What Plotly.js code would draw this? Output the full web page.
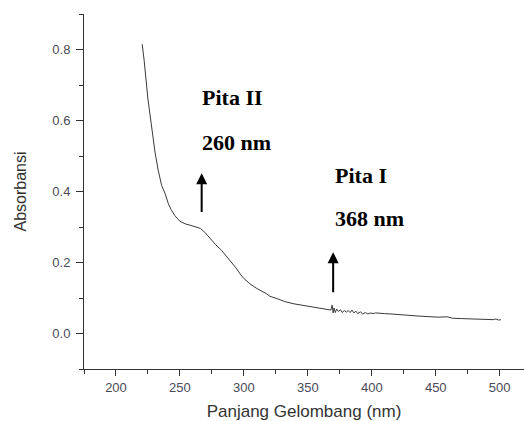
<!DOCTYPE html>
<html>
<head>
<meta charset="utf-8">
<script src="https://cdn.plot.ly/plotly-3.0.1.min.js"></script>
<style>html,body{margin:0;padding:0;background:#fff;}#chart{width:524px;height:421px;}</style>
</head>
<body>
<div id="chart"></div>
<script>
// Wavelength (nm)
var wavelength = [220.5,222,225,228,230.5,233,235.7,238.3,241,243,246,250,254,258,263,266,269.5,273.4,278,282.6,286.5,290.4,294,297,300,304.7,310,317.7,320.3,326.8,332,338.5,345,351,356.8,362,366,368,369,369.8,370.5,371.5,372.5,374,375.5,377,378.5,380,381.5,383,384.5,386,387.5,389,391,393,395,397,399,401,403,406,410,415,420,429.7,437,445,452,459,463,470,477,484,490,495,497,499,501];
// Absorbance
var absorbance = [0.815,0.77,0.66,0.575,0.511,0.46,0.417,0.395,0.365,0.35,0.332,0.316,0.309,0.305,0.299,0.296,0.285,0.268,0.25,0.234,0.217,0.201,0.184,0.168,0.155,0.14,0.127,0.112,0.105,0.097,0.09,0.084,0.08,0.077,0.074,0.071,0.068,0.066,0.08,0.058,0.072,0.059,0.069,0.062,0.067,0.059,0.065,0.06,0.065,0.059,0.066,0.058,0.063,0.056,0.061,0.055,0.059,0.055,0.058,0.056,0.058,0.058,0.056,0.055,0.053,0.051,0.049,0.047,0.046,0.047,0.043,0.042,0.041,0.041,0.04,0.039,0.041,0.038,0.0386];
// Band labels and arrows
var bandLabels = ["Pita II", "260 nm", "Pita I", "368 nm"];
var bandLabelX = [265.6, 265.6, 369.5, 369.5];
var bandLabelY = [0.665, 0.538, 0.445, 0.324];
var arrowX = [267, 369.8];
var arrowTipY = [0.4515, 0.229];
var arrowTailY = [0.338, 0.112];

var annotations = [];
for (var i = 0; i < bandLabels.length; i++) {
  annotations.push({
    x: bandLabelX[i], y: bandLabelY[i], xref: 'x', yref: 'y',
    text: '<b>' + bandLabels[i] + '</b>', showarrow: false,
    xanchor: 'left', yanchor: 'middle',
    font: {family: 'Liberation Serif, Times New Roman, serif', size: 22, color: '#000'}
  });
}
for (var j = 0; j < arrowX.length; j++) {
  annotations.push({
    x: arrowX[j], y: arrowTipY[j], xref: 'x', yref: 'y',
    ax: arrowX[j], ay: arrowTailY[j], axref: 'x', ayref: 'y',
    text: '', showarrow: true, arrowhead: 2, arrowsize: 1.1, arrowwidth: 2, arrowcolor: '#000'
  });
}

var trace = {
  x: wavelength, y: absorbance, type: 'scatter', mode: 'lines',
  line: {color: '#3a3a3a', width: 1}, hoverinfo: 'skip'
};

var layout = {
  width: 524, height: 421,
  margin: {l: 84, r: 0, t: 14, b: 52},
  paper_bgcolor: '#fff', plot_bgcolor: '#fff',
  showlegend: false,
  font: {family: 'Liberation Sans, Arial, sans-serif', color: '#444'},
  xaxis: {
    range: [175, 519], showgrid: false, zeroline: false,
    showline: true, linecolor: '#333', linewidth: 1,
    ticks: 'outside', ticklen: 6, tickcolor: '#333', tickwidth: 1,
    tick0: 200, dtick: 50,
    minor: {dtick: 25, tick0: 175, ticklen: 4, tickcolor: '#333', ticks: 'outside'},
    tickfont: {size: 13, color: '#4a4a5a'},
    title: {text: 'Panjang Gelombang (nm)', font: {size: 17, color: '#333'}, standoff: 15}
  },
  yaxis: {
    range: [-0.1, 0.9], showgrid: false, zeroline: false,
    showline: true, linecolor: '#333', linewidth: 1,
    ticks: 'outside', ticklen: 7, tickcolor: '#333', tickwidth: 1,
    tick0: 0, dtick: 0.2, tickformat: '.1f',
    minor: {dtick: 0.1, tick0: 0, ticklen: 4, tickcolor: '#333', ticks: 'outside'},
    tickfont: {size: 13, color: '#4a4a5a'},
    ticklabelstandoff: 3,
    title: {text: 'Absorbansi', font: {size: 16, color: '#333'}, standoff: 21}
  },
  annotations: annotations
};

Plotly.newPlot('chart', [trace], layout, {staticPlot: true, displayModeBar: false});
</script>
</body>
</html>
